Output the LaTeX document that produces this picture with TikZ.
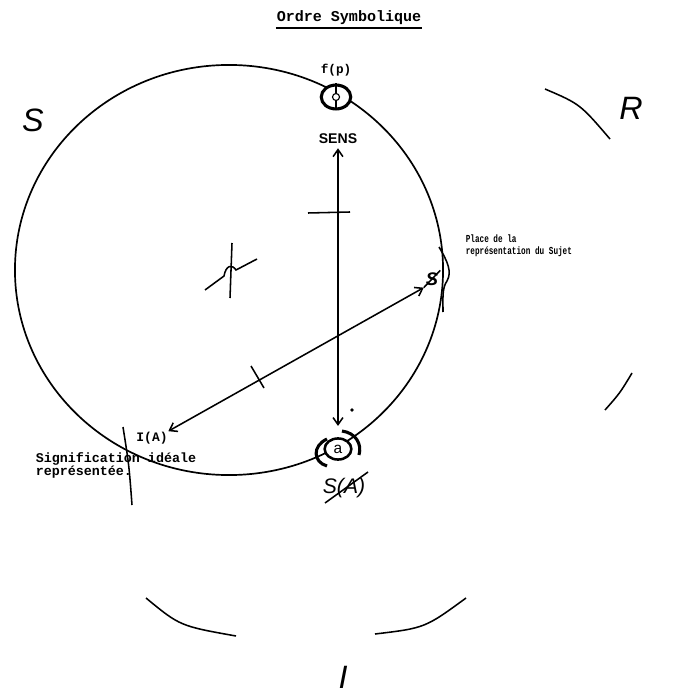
\documentclass[tikz,border=0pt]{standalone}
\usepackage{fontspec}
\usepackage{tikz}
\usetikzlibrary{positioning,shapes.geometric,arrows.meta}
\newfontfamily\typewr{Liberation Mono}
\newfontfamily\typenarrow[FakeStretch=0.72]{Liberation Mono}
\newfontfamily\handsans{Liberation Sans}

\begin{document}
\begin{tikzpicture}[x=0.025cm, y=-0.025cm, line width=1.1pt, >={Straight Barb[length=5pt,width=7pt]},
  typed/.style = {inner sep=0pt, align=left},
  ringname/.style = {inner sep=0pt, font=\fontsize{23}{23}\selectfont\handsans\itshape},
  knot/.style = {draw, ellipse, fill=white, inner sep=0pt}]
\useasboundingbox (0,0) rectangle (676,694);
% title
\node[typed, font=\fontsize{10.7}{12}\selectfont\typewr\bfseries] (title) at (349,18) {Ordre Symbolique};
\draw[line width=1.3pt] ([yshift=-1.5pt]title.south west) -- ([yshift=-1.5pt]title.south east);
% the three rings
\node[ringname] (ringS) at (33,120) {S}; \node[ringname] (ringR) at (631,108) {R}; \node[ringname] (ringI) at (343,677) {I};
\draw[line width=1.2pt] (229,270) ellipse [x radius=5.35cm, y radius=5.125cm];
\draw (545,89) .. controls (580,104) .. (610,139); \draw (605,410) .. controls (620,393) .. (632,373);
\draw (146,598) .. controls (180,626) .. (236,636); \draw (375,634) .. controls (425,628) .. (466,598);
% crossings on the ring
\draw (123,427) .. controls (129,465) .. (132,505);
\draw (439,247) .. controls (448,262) and (452,272) .. (447,281) .. controls (442,288) and (443,298) .. (443,312);
\draw (232,243) -- (230,298); \draw (205,290) -- (224,276) .. controls (226,265) and (232,264) .. (236,270) -- (257,259);
% f(p)
\node[knot, line width=2.2pt, minimum width=21pt, minimum height=17pt] (fpmark) at (336,97) {};
\draw[line width=0.8pt] (fpmark.north) -- (fpmark.south); \draw[line width=0.8pt, fill=white] (fpmark.center) circle[radius=2.5pt];
\node[typed, above=5pt of fpmark, font=\fontsize{9}{9}\selectfont\typewr\bfseries] (fp) {f(p)};
% a
\node[knot, line width=1.8pt, minimum width=19pt, minimum height=15pt, font=\fontsize{11}{11}\selectfont\handsans] (aobj) at (338,449) {a};
\draw[line width=2.2pt] (327,439) .. controls (312,446) and (313,462) .. (327,466);
\draw[line width=2.2pt] (342,431) .. controls (356,433) and (362,444) .. (359,455);
\node[inner sep=0pt, font=\fontsize{15}{15}\selectfont\handsans\itshape] (sa) at (344,488) {S(A)};
\draw (325,503) -- (368,472);
\fill (352,410) circle[radius=1.4pt];
% sens
\node[inner sep=1pt, font=\fontsize{10}{10}\selectfont\handsans\bfseries] (sens) at (338,139) {SENS};
\draw[<->, shorten <=1.5pt, shorten >=8pt] (sens) -- (aobj);
\draw (308,213) -- (350,212);
% sujet
\node[inner sep=1pt, font=\fontsize{13}{13}\selectfont\handsans\itshape\bfseries] (barS) at (432,279) {S};
\draw (barS.south west) -- (barS.north east);
\node[typed, anchor=west, font=\fontsize{7.6}{8.5}\selectfont\typenarrow\bfseries] (sujet) at (465,246) {Place de la\\représentation du Sujet};
% I(A)
\node[typed, font=\fontsize{9.2}{9.2}\selectfont\typewr\bfseries] (ia) at (152,438) {I(A)};
\node[typed, anchor=west, font=\fontsize{9.5}{9.2}\selectfont\typewr\bfseries] (signif) at (35,465) {Signification idéale\\représentée.};
\draw[<->] (ia.north east) -- (barS.south west);
\draw (251,366) -- (264,388);
\end{tikzpicture}
\end{document}
